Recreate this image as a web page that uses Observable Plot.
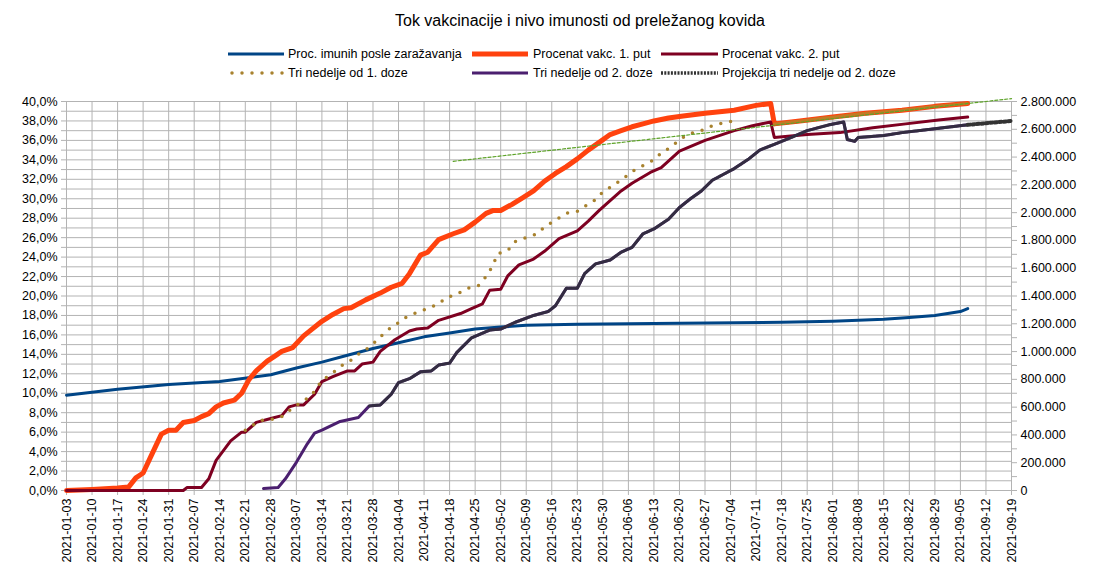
<!DOCTYPE html>
<html>
<head>
<meta charset="utf-8">
<script src="https://cdn.jsdelivr.net/npm/d3@7"></script>
<script src="https://cdn.jsdelivr.net/npm/@observablehq/plot@0.6"></script>
<style>
  html, body { margin: 0; padding: 0; background: #fff; }
  #wrap { width: 1113px; height: 584px; position: relative; font-family: "Liberation Sans", Arial, sans-serif; }
  svg { display: block; }
</style>
</head>
<body>
<div id="wrap"></div>
<script>
// ---------- DATA (values in percent of population) ----------
const chartTitle = "Tok vakcinacije i nivo imunosti od preležanog kovida";
const seriesNames = [
  "Proc. imunih posle zaražavanja",
  "Procenat vakc. 1. put",
  "Procenat vakc. 2. put",
  "Tri nedelje od 1. doze",
  "Tri nedelje od 2. doze",
  "Projekcija tri nedelje od 2. doze"
];

const immuneDates = ["2021-01-03","2021-01-17","2021-01-31","2021-02-14","2021-02-28","2021-03-07","2021-03-14","2021-03-21","2021-03-28","2021-04-04","2021-04-11","2021-04-18","2021-04-25","2021-05-02","2021-05-09","2021-05-23","2021-06-20","2021-07-18","2021-08-01","2021-08-15","2021-08-22","2021-08-29","2021-09-05","2021-09-07"];
const immuneValues = [9.8,10.4,10.9,11.2,11.9,12.6,13.2,13.9,14.6,15.2,15.8,16.2,16.6,16.8,17.0,17.1,17.2,17.3,17.4,17.6,17.8,18.0,18.4,18.7];

const dose1Dates = ["2021-01-03","2021-01-10","2021-01-17","2021-01-20","2021-01-22","2021-01-24","2021-01-26","2021-01-29","2021-01-31","2021-02-02","2021-02-04","2021-02-07","2021-02-09","2021-02-11","2021-02-13","2021-02-15","2021-02-18","2021-02-20","2021-02-22","2021-02-24","2021-02-27","2021-03-01","2021-03-03","2021-03-06","2021-03-09","2021-03-14","2021-03-17","2021-03-20","2021-03-22","2021-03-26","2021-03-30","2021-04-02","2021-04-05","2021-04-07","2021-04-10","2021-04-12","2021-04-15","2021-04-19","2021-04-22","2021-04-25","2021-04-28","2021-04-30","2021-05-02","2021-05-05","2021-05-08","2021-05-11","2021-05-14","2021-05-17","2021-05-20","2021-05-23","2021-05-26","2021-05-29","2021-06-01","2021-06-04","2021-06-07","2021-06-10","2021-06-13","2021-06-17","2021-06-21","2021-06-27","2021-07-05","2021-07-11","2021-07-15","2021-07-16","2021-07-23","2021-08-01","2021-08-10","2021-08-20","2021-08-29","2021-09-07"];
const dose1Values = [0.0,0.1,0.25,0.35,1.3,1.8,3.4,5.8,6.2,6.2,7.0,7.2,7.6,7.9,8.6,9.0,9.3,10.0,11.4,12.3,13.3,13.8,14.3,14.7,15.9,17.4,18.1,18.7,18.8,19.6,20.3,20.9,21.3,22.3,24.2,24.5,25.8,26.4,26.8,27.6,28.5,28.8,28.8,29.4,30.1,30.8,31.8,32.6,33.3,34.1,35.0,35.8,36.6,37.0,37.4,37.7,38.0,38.3,38.5,38.8,39.1,39.6,39.8,37.7,38.0,38.4,38.8,39.1,39.5,39.8];

const dose2Dates = ["2021-01-03","2021-02-04","2021-02-05","2021-02-09","2021-02-11","2021-02-13","2021-02-17","2021-02-20","2021-02-21","2021-02-24","2021-02-28","2021-03-03","2021-03-05","2021-03-07","2021-03-09","2021-03-12","2021-03-14","2021-03-17","2021-03-21","2021-03-23","2021-03-25","2021-03-28","2021-03-30","2021-04-03","2021-04-07","2021-04-09","2021-04-12","2021-04-15","2021-04-21","2021-04-24","2021-04-27","2021-04-29","2021-05-02","2021-05-04","2021-05-07","2021-05-11","2021-05-14","2021-05-18","2021-05-23","2021-05-26","2021-05-29","2021-06-04","2021-06-07","2021-06-12","2021-06-15","2021-06-20","2021-06-27","2021-07-05","2021-07-10","2021-07-15","2021-07-16","2021-07-19","2021-07-25","2021-08-03","2021-08-12","2021-08-21","2021-08-30","2021-09-07"];
const dose2Values = [0.0,0.0,0.3,0.3,1.2,3.1,5.1,6.0,6.0,7.0,7.4,7.7,8.6,8.8,8.8,9.9,11.2,11.7,12.3,12.3,13.0,13.2,14.3,15.5,16.4,16.6,16.7,17.5,18.2,18.7,19.2,20.6,20.7,22.1,23.2,23.8,24.6,25.9,26.7,27.7,28.8,30.8,31.6,32.7,33.2,34.9,36.0,37.0,37.5,37.9,36.3,36.4,36.6,36.8,37.3,37.7,38.1,38.4];

const threeWk1Dates = ["2021-02-21","2021-02-25","2021-02-28","2021-03-03","2021-03-05","2021-03-08","2021-03-11","2021-03-14","2021-03-17","2021-03-20","2021-03-22","2021-03-25","2021-03-27","2021-03-30","2021-04-01","2021-04-03","2021-04-06","2021-04-09","2021-04-12","2021-04-15","2021-04-17","2021-04-20","2021-04-23","2021-04-26","2021-04-28","2021-04-30","2021-05-01","2021-05-04","2021-05-06","2021-05-09","2021-05-12","2021-05-14","2021-05-17","2021-05-20","2021-05-23","2021-05-25","2021-05-28","2021-05-30","2021-06-02","2021-06-05","2021-06-07","2021-06-10","2021-06-13","2021-06-15","2021-06-18","2021-06-20","2021-06-23","2021-06-26","2021-06-29","2021-07-02","2021-07-05"];
const threeWk1Values = [6.2,7.2,7.3,7.6,8.2,9.0,9.7,11.3,12.1,13.0,13.4,14.3,14.7,15.8,16.5,17.0,17.8,18.3,18.7,19.2,19.8,20.2,20.8,21.1,22.0,23.2,24.3,24.7,25.6,26.0,26.4,27.1,27.8,28.5,28.7,29.2,29.9,30.7,31.4,32.2,32.8,33.4,34.0,34.7,35.4,36.1,36.7,37.0,37.5,37.8,38.0];

const threeWk2Dates = ["2021-02-26","2021-03-02","2021-03-04","2021-03-07","2021-03-10","2021-03-12","2021-03-14","2021-03-19","2021-03-24","2021-03-27","2021-03-30","2021-04-02","2021-04-04","2021-04-07","2021-04-10","2021-04-13","2021-04-15","2021-04-18","2021-04-20","2021-04-24","2021-04-29","2021-05-02","2021-05-06","2021-05-11","2021-05-15","2021-05-17","2021-05-20","2021-05-23","2021-05-25","2021-05-28","2021-05-30","2021-06-01","2021-06-04","2021-06-07","2021-06-10","2021-06-13","2021-06-17","2021-06-20","2021-06-23","2021-06-26","2021-06-29","2021-07-03","2021-07-05","2021-07-09","2021-07-12","2021-07-16","2021-07-20","2021-07-25","2021-07-31","2021-08-04","2021-08-05","2021-08-07","2021-08-08","2021-08-15","2021-08-20","2021-08-29","2021-09-07"];
const threeWk2Values = [0.2,0.3,1.2,2.9,4.8,5.9,6.2,7.1,7.5,8.7,8.8,9.9,11.1,11.5,12.2,12.3,12.9,13.1,14.2,15.7,16.5,16.6,17.3,18.0,18.4,19.0,20.8,20.8,22.3,23.3,23.5,23.7,24.5,25.0,26.4,26.9,27.9,29.1,30.0,30.8,31.9,32.7,33.1,34.1,35.0,35.6,36.2,37.0,37.6,37.9,36.1,35.9,36.3,36.5,36.8,37.2,37.6];

const projectionDates = ["2021-09-07","2021-09-19"];
const projectionValues = [37.6,38.0];

const trendDates = ["2021-04-19","2021-09-19"];
const trendValues = [33.85,40.3];

const xDomain = ["2021-01-03","2021-09-19"];
const leftTicks = [0,2,4,6,8,10,12,14,16,18,20,22,24,26,28,30,32,34,36,38,40];
// right axis: number of people (40 % of population = 2.800.000)
const rightTicks = [0,200000,400000,600000,800000,1000000,1200000,1400000,1600000,1800000,2000000,2200000,2400000,2600000,2800000];
const peoplePerPercent = 70000;

// ---------- BUILD ----------
const P = (dates, vals) => dates.map((d, i) => ({date: new Date(d), v: vals[i]}));
const immune = P(immuneDates, immuneValues);
const dose1 = P(dose1Dates, dose1Values);
const dose2 = P(dose2Dates, dose2Values);
const tw1 = P(threeWk1Dates, threeWk1Values);
const tw2 = P(threeWk2Dates, threeWk2Values);
const proj = P(projectionDates, projectionValues);
const trend = P(trendDates, trendValues);

const x0 = new Date(xDomain[0]), x1 = new Date(xDomain[1]);
const weeks = d3.utcWeek.range(x0, d3.utcDay.offset(x1, 1));
const grid = "#b3b3b3";
const fmtPeople = n => d3.format(",")(n).replace(/,/g, ".");
const rightMajor = rightTicks.map(n => n / peoplePerPercent);
const rightMinor = rightTicks.slice(1).map(n => (n - 100000) / peoplePerPercent);

const colors = {
  immune: "#004586", dose1: "#ff420e", dose2: "#7e0021",
  tw1: "#a8822e", tw2: "#4b1f6f", proj: "#333333", trend: "#5ea32a"
};

const wrap = d3.select("#wrap");

// Header (title + legend)
const head = wrap.append("svg").attr("width", 1113).attr("height", 88)
  .style("font-family", '"Liberation Sans", Arial, sans-serif');
head.append("text").attr("x", 580).attr("y", 26).attr("text-anchor", "middle")
  .attr("font-size", 16).attr("fill", "#000").text(chartTitle);

const legendItems = [
  {name: seriesNames[0], col: 0, row: 0, stroke: colors.immune, w: 3},
  {name: seriesNames[1], col: 1, row: 0, stroke: colors.dose1, w: 5},
  {name: seriesNames[2], col: 2, row: 0, stroke: colors.dose2, w: 3},
  {name: seriesNames[3], col: 0, row: 1, stroke: colors.tw1, w: 3.5, dash: "0 10", cap: "round"},
  {name: seriesNames[4], col: 1, row: 1, stroke: colors.tw2, w: 3},
  {name: seriesNames[5], col: 2, row: 1, stroke: colors.proj, w: 3.5, dash: "2 1.3"}
];
const colX = [[228, 284, 288], [472, 528, 533], [661, 718, 722]];
const rowY = [54, 73];
legendItems.forEach(it => {
  const [a, b, t] = colX[it.col];
  const y = rowY[it.row];
  const ln = head.append("line").attr("x1", a + (it.cap ? 4 : 0)).attr("x2", b).attr("y1", y).attr("y2", y)
    .attr("stroke", it.stroke).attr("stroke-width", it.w);
  if (it.dash) ln.attr("stroke-dasharray", it.dash);
  if (it.cap) ln.attr("stroke-linecap", it.cap);
  head.append("text").attr("x", t).attr("y", y).attr("dy", "0.35em")
    .attr("font-size", 12.5).attr("fill", "#000").text(it.name);
});

// Chart
const chart = Plot.plot({
  width: 1113,
  height: 496,
  marginTop: 13,
  marginBottom: 94,
  marginLeft: 66,
  marginRight: 102,
  style: {fontFamily: '"Liberation Sans", Arial, sans-serif', fontSize: "12.5px", background: "#fff", color: "#000"},
  x: {type: "utc", domain: [x0, x1]},
  y: {domain: [0, 40]},
  marks: [
    Plot.ruleY(d3.range(0, 41, 1), {stroke: grid, strokeWidth: 1}),
    Plot.ruleX(weeks, {stroke: grid, strokeWidth: 1}),
    Plot.axisX({ticks: weeks, tickFormat: d3.utcFormat("%Y-%m-%d"), tickRotate: -90, tickSize: 5, tickPadding: 3,
      stroke: grid, fill: "#000", label: null}),
    Plot.axisY({anchor: "left", ticks: leftTicks, tickFormat: d => d.toFixed(1).replace(".", ",") + "%",
      tickSize: 5, tickPadding: 4, stroke: grid, fill: "#000", label: null}),
    Plot.axisY({anchor: "left", ticks: d3.range(1, 40, 2), tickFormat: () => "", tickSize: 5, stroke: grid, label: null}),
    Plot.axisY({anchor: "right", ticks: rightMajor,
      tickFormat: d => fmtPeople(Math.round(d * peoplePerPercent)), tickSize: 5, tickPadding: 4, stroke: grid, fill: "#000", label: null}),
    Plot.axisY({anchor: "right", ticks: rightMinor, tickFormat: () => "", tickSize: 5, stroke: grid, label: null}),

    Plot.line(immune, {x: "date", y: "v", stroke: colors.immune, strokeWidth: 3}),
    Plot.line(dose1, {x: "date", y: "v", stroke: colors.dose1, strokeWidth: 5, strokeLinejoin: "round"}),
    Plot.line(dose1.filter(d => d.date >= new Date("2021-07-16")), {x: "date", y: "v", stroke: "#c27a26", strokeWidth: 3, strokeDasharray: "2 2"}),
    Plot.line(dose2, {x: "date", y: "v", stroke: colors.dose2, strokeWidth: 3}),
    Plot.line(tw1, {x: "date", y: "v", stroke: colors.tw1, strokeWidth: 3.5, strokeDasharray: "0 10", strokeLinecap: "round"}),
    Plot.line(tw2, {x: "date", y: "v", stroke: colors.tw2, strokeWidth: 3}),
    Plot.line(tw2.filter(d => d.date >= new Date("2021-03-27")), {x: "date", y: "v", stroke: "#2f2f3a", strokeWidth: 3, strokeDasharray: "3 1", strokeOpacity: 0.85}),
    Plot.line(proj, {x: "date", y: "v", stroke: colors.proj, strokeWidth: 4, strokeDasharray: "2.5 2"}),
    Plot.line(trend, {x: "date", y: "v", stroke: colors.trend, strokeWidth: 1.2, strokeDasharray: "3 2"})
  ]
});
wrap.node().appendChild(chart);
</script>
</body>
</html>
